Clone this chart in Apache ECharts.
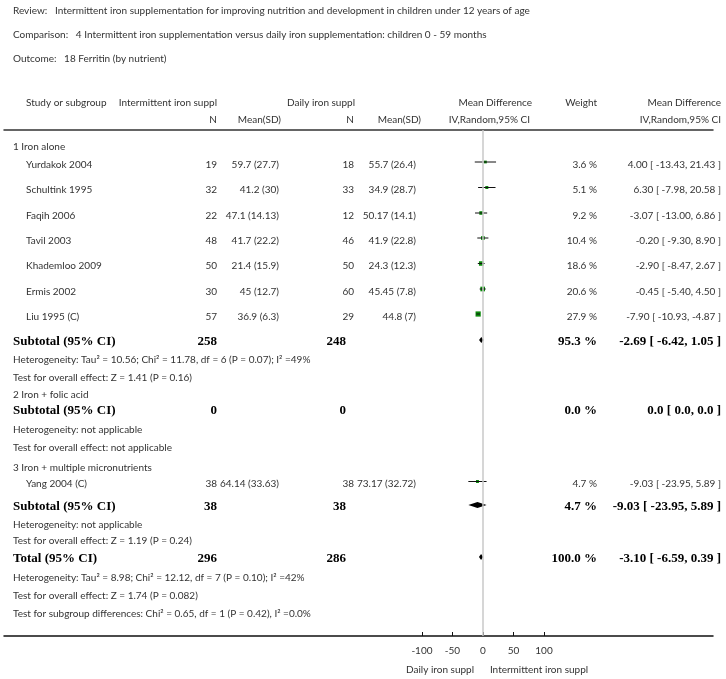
<!DOCTYPE html>
<html>
<head>
<meta charset="utf-8">
<script src="https://cdn.jsdelivr.net/npm/echarts@6.0.0/dist/echarts.min.js"></script>
<style>
  html, body { margin: 0; padding: 0; background: #fff; }
  #main { width: 726px; height: 679px; }
</style>
</head>
<body>
<div id="main"></div>
<script>
// study level data
var studies = ['Yurdakok 2004', 'Schultink 1995', 'Faqih 2006', 'Tavil 2003', 'Khademloo 2009', 'Ermis 2002', 'Liu 1995 (C)', 'Yang 2004 (C)'];
var nInt = [19, 32, 22, 48, 50, 30, 57, 38];
var meanInt = [59.7, 41.2, 47.1, 41.7, 21.4, 45, 36.9, 64.14];
var sdInt = [27.7, 30, 14.13, 22.2, 15.9, 12.7, 6.3, 33.63];
var nDaily = [18, 33, 12, 46, 50, 60, 29, 38];
var meanDaily = [55.7, 34.9, 50.17, 41.9, 24.3, 45.45, 44.8, 73.17];
var sdDaily = [26.4, 28.7, 14.1, 22.8, 12.3, 7.8, 7, 32.72];
var weights = [3.6, 5.1, 9.2, 10.4, 18.6, 20.6, 27.9, 4.7];
var md = [4.00, 6.30, -3.07, -0.20, -2.90, -0.45, -7.90, -9.03];
var ciLo = [-13.43, -7.98, -13.00, -9.30, -8.47, -5.40, -10.93, -23.95];
var ciHi = [21.43, 20.58, 6.86, 8.90, 2.67, 4.50, -4.87, 5.89];

// subtotals: 1 Iron alone, 2 Iron + folic acid, 3 Iron + multiple micronutrients, Total
var pooledLabel = ['Subtotal (95% CI)', 'Subtotal (95% CI)', 'Subtotal (95% CI)', 'Total (95% CI)'];
var pooledNInt = [258, 0, 38, 296];
var pooledNDaily = [248, 0, 38, 286];
var pooledWeight = [95.3, 0.0, 4.7, 100.0];
var pooledMd = [-2.69, 0.0, -9.03, -3.10];
var pooledLo = [-6.42, 0.0, -23.95, -6.59];
var pooledHi = [1.05, 0.0, 5.89, 0.39];

var groupNames = ['1 Iron alone', '2 Iron + folic acid', '3 Iron + multiple micronutrients'];
var hetTexts = [
  'Heterogeneity: Tau\u00b2 = 10.56; Chi\u00b2 = 11.78, df = 6 (P = 0.07); I\u00b2 =49%',
  'Heterogeneity: not applicable',
  'Heterogeneity: not applicable',
  'Heterogeneity: Tau\u00b2 = 8.98; Chi\u00b2 = 12.12, df = 7 (P = 0.10); I\u00b2 =42%'
];
var effectTexts = [
  'Test for overall effect: Z = 1.41 (P = 0.16)',
  'Test for overall effect: not applicable',
  'Test for overall effect: Z = 1.19 (P = 0.24)',
  'Test for overall effect: Z = 1.74 (P = 0.082)'
];
var subgroupText = 'Test for subgroup differences: Chi\u00b2 = 0.65, df = 1 (P = 0.42), I\u00b2 =0.0%';
var tickValues = [-100, -50, 0, 50, 100];

// layout: vertical position (px) of each text row
var studyRowY = [164.5, 190, 215.5, 240.5, 266, 291.5, 316.5, 484];
var groupRowY = [147, 395, 468];
var pooledRowY = [342, 411, 507, 559];
var hetRowY = [360, 430, 525, 578];
var effectRowY = [378, 448, 541, 596];
var subgroupRowY = 614;

var FONT = '10px Lato';
var BOLD = 'bold 13px "Liberation Serif"';
var TXT = '#333';

function fmt2(v) { return v === 0 ? '0.0' : v.toFixed(2); }

var graphics = [];
function txt(s, x, y, align, font, color) {
  graphics.push({
    type: 'text', silent: true,
    style: { text: s, x: x, y: y, align: align || 'left', verticalAlign: 'middle', font: font || FONT, fill: color || TXT }
  });
}

// title block
txt('Review:   Intermittent iron supplementation for improving nutrition and development in children under 12 years of age', 13, 11);
txt('Comparison:   4 Intermittent iron supplementation versus daily iron supplementation: children 0 - 59 months', 13, 35);
txt('Outcome:   18 Ferritin (by nutrient)', 13, 59);

// column headers
txt('Study or subgroup', 26, 103);
txt('Intermittent iron suppl', 217, 103, 'right');
txt('Daily iron suppl', 355, 103, 'right');
txt('Mean Difference', 532, 103, 'right');
txt('Weight', 597, 103, 'right');
txt('Mean Difference', 721, 103, 'right');
txt('N', 217, 120, 'right');
txt('Mean(SD)', 281, 120, 'right');
txt('N', 354, 120, 'right');
txt('Mean(SD)', 421, 120, 'right');
txt('IV,Random,95% CI', 530, 120, 'right');
txt('IV,Random,95% CI', 721, 120, 'right');

groupNames.forEach(function (g, i) { txt(g, 13, groupRowY[i]); });

studies.forEach(function (s, i) {
  var y = studyRowY[i];
  txt(s, 26, y);
  txt(String(nInt[i]), 217, y, 'right');
  txt(meanInt[i] + ' (' + sdInt[i] + ')', 279, y, 'right');
  txt(String(nDaily[i]), 354, y, 'right');
  txt(meanDaily[i] + ' (' + sdDaily[i] + ')', 416, y, 'right');
  txt(weights[i].toFixed(1) + ' %', 597, y, 'right');
  txt(md[i].toFixed(2) + ' [ ' + ciLo[i].toFixed(2) + ', ' + ciHi[i].toFixed(2) + ' ]', 721, y, 'right');
});

pooledLabel.forEach(function (s, i) {
  var y = pooledRowY[i];
  txt(s, 13, y, 'left', BOLD, '#000');
  txt(String(pooledNInt[i]), 217, y, 'right', BOLD, '#000');
  txt(String(pooledNDaily[i]), 346, y, 'right', BOLD, '#000');
  txt(pooledWeight[i].toFixed(1) + ' %', 597, y, 'right', BOLD, '#000');
  txt(fmt2(pooledMd[i]) + ' [ ' + fmt2(pooledLo[i]) + ', ' + fmt2(pooledHi[i]) + ' ]', 721, y, 'right', BOLD, '#000');
  txt(hetTexts[i], 13, hetRowY[i]);
  txt(effectTexts[i], 13, effectRowY[i]);
});
txt(subgroupText, 13, subgroupRowY);

// axis side labels
txt('Daily iron suppl', 440, 670, 'center');
txt('Intermittent iron suppl', 539, 670, 'center');

// marks data
var studyData = md.map(function (v, i) { return [v, ciLo[i], ciHi[i], weights[i], studyRowY[i] - 2.5]; });
var diamondData = [];
pooledMd.forEach(function (v, i) {
  if (pooledWeight[i] > 0) diamondData.push([v, pooledLo[i], pooledHi[i], pooledRowY[i] - 2]);
});

var chart = echarts.init(document.getElementById('main'), null, { renderer: 'canvas' });
var axisRange = { min: -785, max: 377 };

var option = {
  animation: false,
  backgroundColor: '#fff',
  grid: { left: 4, right: 13, top: 130, bottom: 43, containLabel: false },
  xAxis: [{
    type: 'value', min: axisRange.min, max: axisRange.max, position: 'bottom',
    splitLine: { show: false },
    axisLine: { show: true, lineStyle: { color: '#111', width: 1.5 } },
    axisTick: { show: true, inside: true, length: 4, customValues: tickValues, lineStyle: { color: '#111', width: 1 } },
    axisLabel: { show: true, customValues: tickValues, margin: 10, fontFamily: 'Lato', fontSize: 10, color: TXT }
  }, {
    type: 'value', min: axisRange.min, max: axisRange.max, position: 'top',
    splitLine: { show: false },
    axisLine: { show: true, lineStyle: { color: '#333', width: 1.5 } },
    axisTick: { show: false }, axisLabel: { show: false }
  }],
  yAxis: { type: 'value', inverse: true, min: 130, max: 636, show: false },
  series: [{
    type: 'custom',
    name: 'studies',
    data: studyData,
    clip: false,
    renderItem: function (params, api) {
      var y = api.value(4);
      var pLo = api.coord([api.value(1), y]);
      var pHi = api.coord([api.value(2), y]);
      var pMd = api.coord([api.value(0), y]);
      var s = 1.4 + Math.sqrt(api.value(3)) * 0.72;
      return {
        type: 'group',
        children: [
          { type: 'rect', shape: { x: pMd[0] - s / 2, y: pMd[1] - s / 2, width: s, height: s }, style: { fill: '#0a8a0a' } },
          { type: 'line', shape: { x1: pLo[0], y1: pLo[1], x2: pHi[0], y2: pHi[1] }, style: { stroke: '#111', lineWidth: 1 } }
        ]
      };
    },
    markLine: {
      silent: true, symbol: ['none', 'none'], label: { show: false },
      lineStyle: { color: '#c8c8c8', width: 1.5, type: 'solid' },
      data: [{ xAxis: 0 }]
    },
    z: 3
  }, {
    type: 'custom',
    name: 'pooled',
    data: diamondData,
    clip: false,
    renderItem: function (params, api) {
      var y = api.value(3);
      var pLo = api.coord([api.value(1), y]);
      var pHi = api.coord([api.value(2), y]);
      var pMd = api.coord([api.value(0), y]);
      var h = 3;
      return {
        type: 'polygon',
        shape: { points: [[pLo[0], pLo[1]], [pMd[0], pMd[1] - h], [pHi[0], pHi[1]], [pMd[0], pMd[1] + h]] },
        style: { fill: '#000' }
      };
    },
    z: 4
  }],
  graphic: graphics
};

chart.setOption(option);
</script>
</body>
</html>
